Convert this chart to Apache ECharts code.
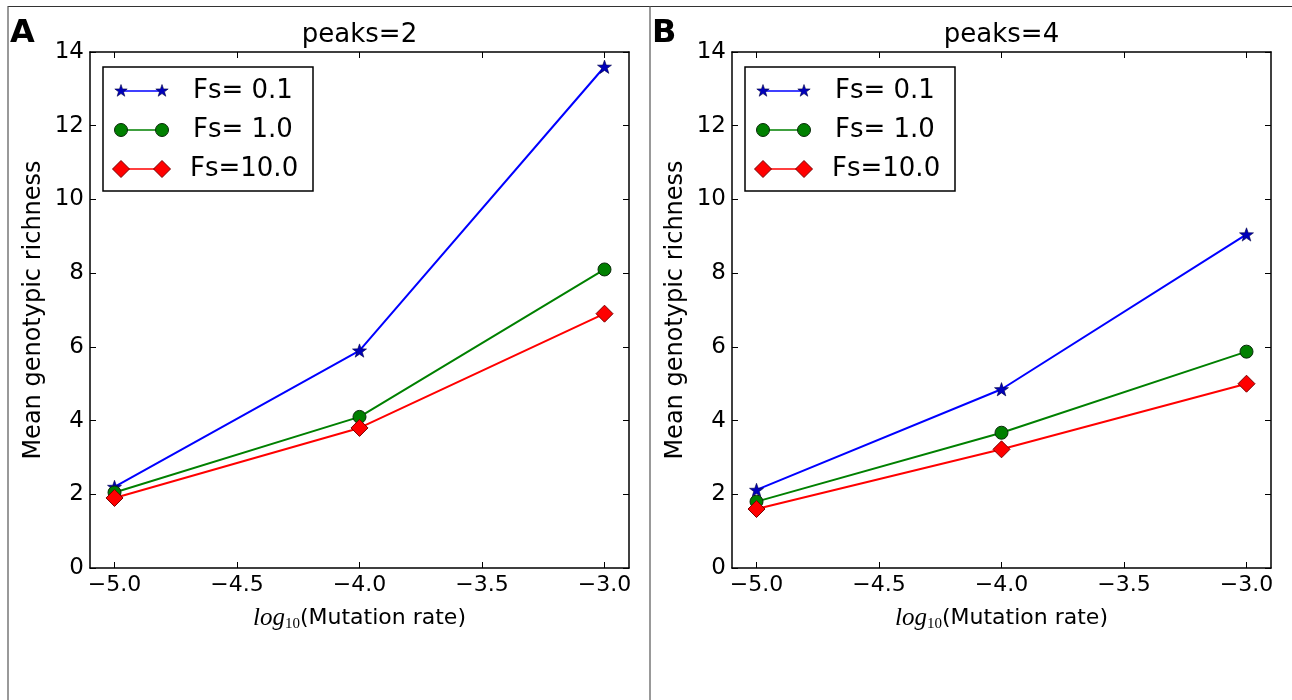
<!DOCTYPE html>
<html>
<head>
<meta charset="utf-8">
<script src="https://cdn.jsdelivr.net/npm/echarts@6/dist/echarts.min.js"></script>
<style>
html,body{margin:0;padding:0;background:#fff;}
#chart{width:1292px;height:700px;}
</style>
</head>
<body>
<div id="chart"></div>
<script>
// ---- data ----
const xValues = [-5.0, -4.0, -3.0];
const seriesNames = ['Fs= 0.1', 'Fs= 1.0', 'Fs=10.0'];
const panelTitles = ['peaks=2', 'peaks=4'];
const panelLetters = ['A', 'B'];
const peaks2Fs01 = [2.2, 5.9, 13.6];
const peaks2Fs1 = [2.05, 4.1, 8.1];
const peaks2Fs10 = [1.9, 3.8, 6.9];
const peaks4Fs01 = [2.12, 4.85, 9.05];
const peaks4Fs1 = [1.8, 3.67, 5.87];
const peaks4Fs10 = [1.6, 3.22, 5.0];
const xTickValues = [-5.0, -4.5, -4.0, -3.5, -3.0];
const yTickValues = [0, 2, 4, 6, 8, 10, 12, 14];

const panelData = [[peaks2Fs01, peaks2Fs1, peaks2Fs10], [peaks4Fs01, peaks4Fs1, peaks4Fs10]];

// ---- styles ----
const FONT = 'DejaVu Sans';
const lineColors = ['#0000ff', '#008000', '#ff0000'];
const starPath = 'path://M0,-10 L2.35,-3.24 L9.51,-3.09 L3.8,1.24 L5.88,8.09 L0,4 L-5.88,8.09 L-3.8,1.24 L-9.51,-3.09 L-2.35,-3.24 Z';
const markerDefs = [
  {symbol: starPath, size: 14, fill: '#0000bb', border: '#000044', bw: 0.6},
  {symbol: 'circle', size: 13, fill: '#008000', border: '#0a2a0a', bw: 1},
  {symbol: 'diamond', size: 17, fill: '#ff0000', border: '#7a0000', bw: 1}
];

const gridLefts = [90, 732];
const gridTop = 52, gridW = 539, gridH = 516;

const chart = echarts.init(document.getElementById('chart'), null, {renderer: 'canvas'});

const fmtX = v => (v < 0 ? '\u2212' : '') + Math.abs(v).toFixed(1);

const grids = [], xAxes = [], yAxes = [], series = [], graphics = [];
const axisLine = {show: true, onZero: false, lineStyle: {color: '#000', width: 1.5}};

gridLefts.forEach((left, p) => {
  grids.push({left: left, top: gridTop, width: gridW, height: gridH, containLabel: false});
  const gi = p;
  xAxes.push({
    type: 'value', gridIndex: gi, position: 'bottom', min: -5.1, max: -2.9,
    axisLine: axisLine,
    axisTick: {show: true, inside: true, length: 6, customValues: xTickValues, lineStyle: {color: '#000', width: 1}},
    axisLabel: {show: true, customValues: xTickValues, formatter: fmtX, color: '#000', fontFamily: FONT, fontSize: 22, margin: 6},
    splitLine: {show: false},
    name: '{l|log}{s|10}{m|(Mutation rate)}',
    nameLocation: 'middle', nameGap: 37,
    nameTextStyle: {
      color: '#000',
      rich: {
        l: {fontFamily: 'Liberation Serif', fontStyle: 'italic', fontSize: 25, color: '#000', verticalAlign: 'middle'},
        s: {fontFamily: 'Liberation Serif', fontSize: 15, color: '#000', padding: [12, 0, 0, 0], verticalAlign: 'middle'},
        m: {fontFamily: FONT, fontSize: 22, color: '#000', verticalAlign: 'middle'}
      }
    }
  });
  xAxes.push({
    type: 'value', gridIndex: gi, position: 'top', min: -5.1, max: -2.9,
    axisLine: axisLine,
    axisTick: {show: true, inside: true, length: 6, customValues: xTickValues, lineStyle: {color: '#000', width: 1}},
    axisLabel: {show: false},
    splitLine: {show: false}
  });
  yAxes.push({
    type: 'value', gridIndex: gi, position: 'left', min: 0, max: 14, interval: 2,
    axisLine: axisLine,
    axisTick: {show: true, inside: true, length: 6, lineStyle: {color: '#000', width: 1}},
    axisLabel: {show: true, color: '#000', fontFamily: FONT, fontSize: 23, margin: 6},
    splitLine: {show: false},
    name: 'Mean genotypic richness', nameLocation: 'middle', nameGap: 44, nameRotate: 90,
    nameTextStyle: {color: '#000', fontFamily: FONT, fontSize: 24}
  });
  yAxes.push({
    type: 'value', gridIndex: gi, position: 'right', min: 0, max: 14, interval: 2,
    axisLine: axisLine,
    axisTick: {show: true, inside: true, length: 6, lineStyle: {color: '#000', width: 1}},
    axisLabel: {show: false},
    splitLine: {show: false}
  });

  panelData[p].forEach((vals, s) => {
    const m = markerDefs[s];
    series.push({
      type: 'line', name: seriesNames[s] + '_' + p,
      xAxisIndex: p * 2, yAxisIndex: p * 2,
      data: xValues.map((x, i) => [x, vals[i]]),
      symbol: m.symbol, symbolSize: m.size, symbolKeepAspect: true, showAllSymbol: true,
      lineStyle: {color: lineColors[s], width: 2},
      itemStyle: {color: m.fill, borderColor: m.border, borderWidth: m.bw},
      emphasis: {disabled: true},
      z: 2 + s
    });
  });

  graphics.push({
    type: 'text', z: 10,
    style: {text: panelTitles[p], x: left + gridW / 2, y: 35, align: 'center', verticalAlign: 'middle',
            font: '26px "DejaVu Sans"', fill: '#000'}
  });
  graphics.push({
    type: 'text', z: 10,
    style: {text: panelLetters[p], x: p === 0 ? 10 : 652, y: 34, align: 'left', verticalAlign: 'middle',
            font: 'bold 32px "DejaVu Sans"', fill: '#000'}
  });

  const bx = left + 13, by = 67;
  graphics.push({type: 'rect', z: 20, shape: {x: bx, y: by, width: 210, height: 124},
                 style: {fill: '#fff', stroke: '#000', lineWidth: 1.5}});
  const rowsY = [91, 130, 169];
  seriesNames.forEach((nm, s) => {
    const y = rowsY[s];
    const x1 = left + 31, x2 = left + 72;
    graphics.push({type: 'line', z: 21, shape: {x1: x1, y1: y, x2: x2, y2: y},
                   style: {stroke: lineColors[s], lineWidth: 1.5}});
    [x1, x2].forEach(cx => {
      const m = markerDefs[s];
      if (s === 0) {
        const pts = [[0,-10],[2.35,-3.24],[9.51,-3.09],[3.8,1.24],[5.88,8.09],[0,4],[-5.88,8.09],[-3.8,1.24],[-9.51,-3.09],[-2.35,-3.24]]
          .map(pt => [cx + pt[0] * 0.65, y + pt[1] * 0.65]);
        graphics.push({type: 'polygon', z: 22, shape: {points: pts}, style: {fill: m.fill, stroke: m.border, lineWidth: 0.6}});
      } else if (s === 1) {
        graphics.push({type: 'circle', z: 22, shape: {cx: cx, cy: y, r: 6.5}, style: {fill: m.fill, stroke: m.border, lineWidth: 1}});
      } else {
        graphics.push({type: 'polygon', z: 22, shape: {points: [[cx, y - 8.5], [cx + 8.5, y], [cx, y + 8.5], [cx - 8.5, y]]},
                       style: {fill: m.fill, stroke: m.border, lineWidth: 1}});
      }
    });
    graphics.push({type: 'text', z: 22,
      style: {text: nm, x: left + (s === 2 ? 100 : 103), y: y, align: 'left', verticalAlign: 'middle',
              font: '26px "DejaVu Sans"', fill: '#000'}});
  });
});

graphics.push({type: 'line', z: 30, shape: {x1: 8, y1: 6.5, x2: 1292, y2: 6.5}, style: {stroke: '#333', lineWidth: 1.2}});
graphics.push({type: 'line', z: 30, shape: {x1: 8, y1: 6, x2: 8, y2: 700}, style: {stroke: '#555', lineWidth: 1.2}});
graphics.push({type: 'line', z: 30, shape: {x1: 650, y1: 6, x2: 650, y2: 700}, style: {stroke: '#555', lineWidth: 1.2}});

chart.setOption({
  animation: false,
  backgroundColor: '#fff',
  grid: grids,
  xAxis: xAxes,
  yAxis: yAxes,
  series: series,
  graphic: graphics
});
</script>
</body>
</html>
